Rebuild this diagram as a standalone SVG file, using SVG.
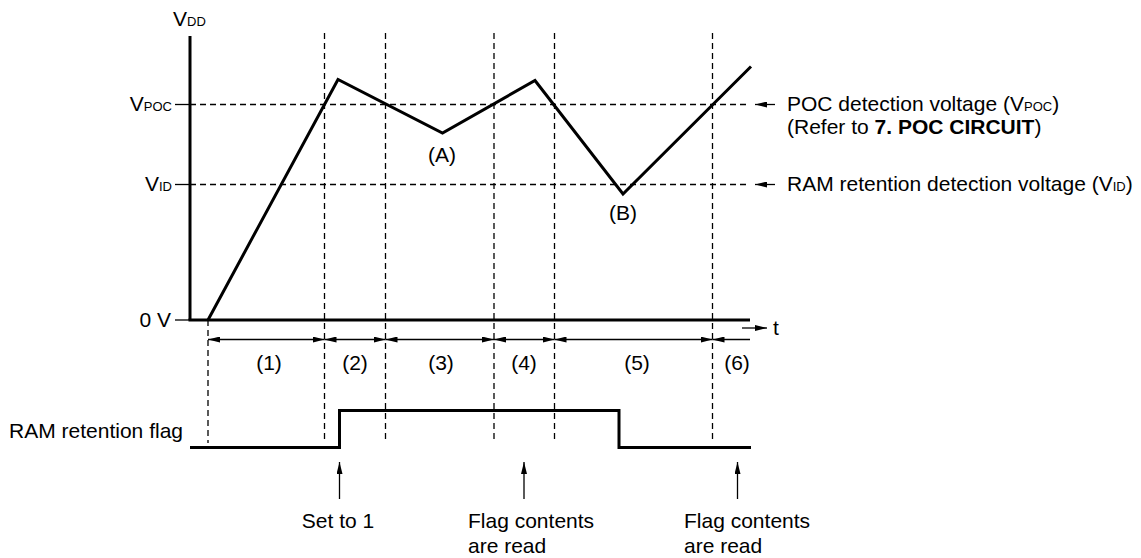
<svg xmlns="http://www.w3.org/2000/svg" width="1141" height="558" viewBox="0 0 1141 558">
<defs>
<marker id="ah" viewBox="0 0 12 6" refX="12" refY="3" markerWidth="12" markerHeight="6" markerUnits="userSpaceOnUse" orient="auto-start-reverse">
<path d="M0,0 L12,3 L0,6 z" fill="#000"/>
</marker>
</defs>
<style>
text{font-family:"Liberation Sans",Arial,sans-serif;font-size:21px;fill:#000}
.sub{font-size:13px}
.b{font-weight:bold}
.thick{stroke:#000;stroke-width:3;fill:none}
.thin{stroke:#000;stroke-width:1.3;fill:none}
.dash{stroke:#000;stroke-width:1.3;stroke-dasharray:6 4;fill:none}
.arr{stroke:#000;stroke-width:1.3;fill:none;marker-end:url(#ah)}
.dim{stroke:#000;stroke-width:1.3;fill:none;marker-start:url(#ah);marker-end:url(#ah)}
</style>

<g id="grid">
<line class="dash" x1="208" y1="320" x2="208" y2="443"/>
<line class="dash" x1="324.5" y1="33" x2="324.5" y2="443"/>
<line class="dash" x1="385.5" y1="33" x2="385.5" y2="443"/>
<line class="dash" x1="494" y1="33" x2="494" y2="443"/>
<line class="dash" x1="554.5" y1="33" x2="554.5" y2="443"/>
<line class="dash" x1="712.5" y1="33" x2="712.5" y2="443"/>
<line class="dash" x1="190" y1="104.5" x2="750" y2="104.5"/>
<line class="dash" x1="190" y1="184.5" x2="750" y2="184.5"/>
</g>

<g id="axes">
<line class="thick" x1="190" y1="36" x2="190" y2="320"/>
<line class="thick" x1="188.5" y1="320" x2="750" y2="320"/>
<line class="thin" x1="175" y1="104.5" x2="190" y2="104.5"/>
<line class="thin" x1="175" y1="184.5" x2="190" y2="184.5"/>
<line class="thin" x1="175" y1="320" x2="190" y2="320"/>
<text x="173" y="26">V<tspan class="sub">DD</tspan></text>
<text x="172" y="111" text-anchor="end">V<tspan class="sub">POC</tspan></text>
<text x="172" y="191" text-anchor="end">V<tspan class="sub">ID</tspan></text>
<text x="171" y="327" text-anchor="end">0 V</text>
<line class="arr" x1="742" y1="328" x2="767" y2="328"/>
<text x="773" y="335">t</text>
</g>

<g id="waveform">
<polyline class="thick" points="208,320 338,79.5 442.5,133 535,80.5 623,194 751,66.5" stroke-linejoin="miter"/>
<text x="442" y="162" text-anchor="middle">(A)</text>
<text x="623" y="220" text-anchor="middle">(B)</text>
</g>

<g id="level-labels">
<line class="arr" x1="775" y1="104.5" x2="755" y2="104.5"/>
<text x="787" y="111">POC detection voltage (V<tspan class="sub">POC</tspan>)</text>
<text x="787" y="134">(Refer to <tspan class="b">7. POC CIRCUIT</tspan>)</text>
<line class="arr" x1="775" y1="184.5" x2="755" y2="184.5"/>
<text x="787" y="191">RAM retention detection voltage (V<tspan class="sub">ID</tspan>)</text>
</g>

<g id="intervals">
<line class="dim" x1="208" y1="339.5" x2="324.5" y2="339.5"/>
<line class="dim" x1="324.5" y1="339.5" x2="385.5" y2="339.5"/>
<line class="dim" x1="385.5" y1="339.5" x2="494" y2="339.5"/>
<line class="dim" x1="494" y1="339.5" x2="554.5" y2="339.5"/>
<line class="dim" x1="554.5" y1="339.5" x2="712.5" y2="339.5"/>
<line class="arr" x1="750" y1="339.5" x2="712.5" y2="339.5"/>
<text x="269" y="370" text-anchor="middle">(1)</text>
<text x="355" y="370" text-anchor="middle">(2)</text>
<text x="441" y="370" text-anchor="middle">(3)</text>
<text x="524" y="370" text-anchor="middle">(4)</text>
<text x="637" y="370" text-anchor="middle">(5)</text>
<text x="737" y="370" text-anchor="middle">(6)</text>
</g>

<g id="flag">
<text x="183" y="438" text-anchor="end">RAM retention flag</text>
<polyline class="thick" points="190,447.5 339.5,447.5 339.5,410.5 619,410.5 619,447.5 751,447.5" stroke-linejoin="miter"/>
</g>

<g id="events">
<line class="arr" x1="339.5" y1="499" x2="339.5" y2="462"/>
<text x="338" y="528" text-anchor="middle">Set to 1</text>
<line class="arr" x1="524" y1="499" x2="524" y2="462"/>
<text x="468" y="528">Flag contents</text>
<text x="468" y="553">are read</text>
<line class="arr" x1="737.5" y1="499" x2="737.5" y2="462"/>
<text x="684" y="528">Flag contents</text>
<text x="684" y="553">are read</text>
</g>
</svg>
